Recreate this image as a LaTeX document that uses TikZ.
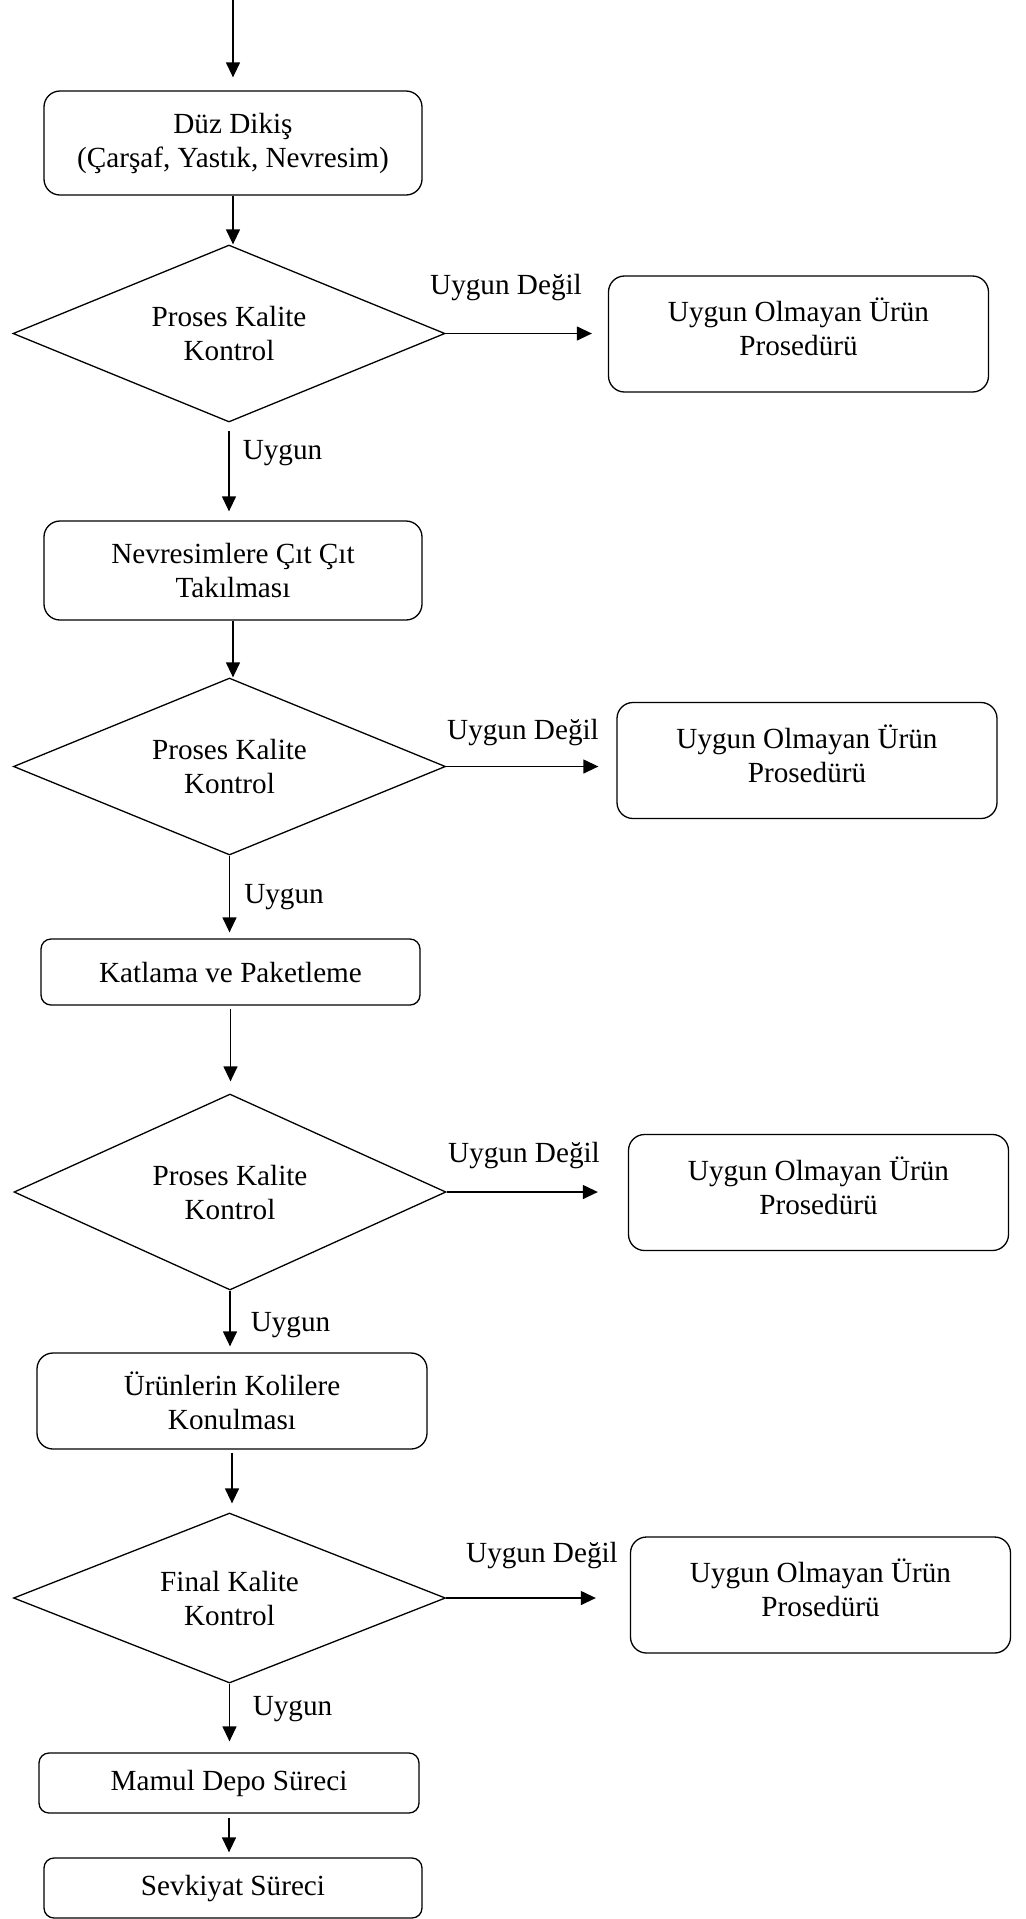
\documentclass[tikz,border=0pt]{standalone}
\usepackage{fontspec}
\setmainfont{Liberation Serif}
\usetikzlibrary{shapes.geometric,arrows.meta}

\tikzset{
	stepbox/.style={draw, rounded corners=8pt, line width=0.65pt, align=center, inner sep=0pt},
	thinbox/.style={stepbox, rounded corners=5pt},
	nobox/.style={stepbox, minimum width=190pt, minimum height=58pt, text depth=7pt},
	check/.style={draw, diamond, aspect=2.4, line width=0.65pt, align=center, inner sep=0pt, minimum width=216pt},
	arr/.style={-{Triangle[length=7.5pt,width=7pt]}, line width=0.65pt},
}

\begin{document}
\begin{tikzpicture}[x=0.5pt, y=-0.5pt, font=\fontsize{14.6pt}{17pt}\selectfont]
		
		\useasboundingbox (0,0) rectangle (1025,1919);
		
		\coordinate (start) at (233,0);
		
		\node[stepbox, minimum width=189pt, minimum height=52pt] (dikis) at (233,143) {Düz Dikiş\\(Çarşaf, Yastık, Nevresim)};
		\node[check, minimum height=88.5pt] (kk1) at (229,333.5) {Proses Kalite\\Kontrol};
		\node[nobox] (red1) at (798.5,334) {Uygun Olmayan Ürün\\Prosedürü};
		
		\node[stepbox, minimum width=189pt, minimum height=49.5pt] (citcit) at (233,570.5) {Nevresimlere Çıt Çıt\\Takılması};
		\node[check, minimum height=88.5pt] (kk2) at (229.5,766.5) {Proses Kalite\\Kontrol};
		\node[nobox] (red2) at (807,760.5) {Uygun Olmayan Ürün\\Prosedürü};
		
		\node[thinbox, minimum width=189.5pt, minimum height=33pt] (katlama) at (230.5,972) {Katlama ve Paketleme};
		\node[check, minimum height=98pt] (kk3) at (230,1192) {Proses Kalite\\Kontrol};
		\node[nobox] (red3) at (818.5,1192.5) {Uygun Olmayan Ürün\\Prosedürü};
		
		\node[stepbox, minimum width=195pt, minimum height=48pt] (koli) at (232,1401) {Ürünlerin Kolilere\\Konulması};
		\node[check, minimum height=85pt] (kk4) at (229.5,1598) {Final Kalite\\Kontrol};
		\node[nobox] (red4) at (820.5,1595) {Uygun Olmayan Ürün\\Prosedürü};
		
		\node[thinbox, minimum width=190pt, minimum height=30pt] (depo) at (229,1783) {Mamul Depo Süreci};
		\node[thinbox, minimum width=189pt, minimum height=30pt] (sevk) at (233,1888) {Sevkiyat Süreci};
		
		\node (no1) at (506,288) {Uygun Değil};
		\node (no2) at (523,733) {Uygun Değil};
		\node (no3) at (524,1156) {Uygun Değil};
		\node (no4) at (542,1555) {Uygun Değil};
		
		\node (ok1) at (282.5,453) {Uygun};
		\node (ok2) at (284,897) {Uygun};
		\node (ok3) at (290.5,1325) {Uygun};
		\node (ok4) at (292.5,1709) {Uygun};
		
		\draw[arr, shorten >=6.5pt] (start) -- (start |- dikis.north);
		\draw[arr] (dikis.south) -- (dikis.south |- kk1.north);
		\draw[arr, shorten >=8pt] (kk1.east) -- (kk1.east -| red1.west);
		\draw[arr, shorten <=4.3pt, shorten >=4.5pt] (kk1.south) -- (kk1.south |- citcit.north);
		
		\draw[arr] (citcit.south) -- (citcit.south |- kk2.north);
		\draw[arr, shorten >=9pt] (kk2.east) -- (kk2.east -| red2.west);
		\draw[arr, shorten >=3pt] (kk2.south) -- (kk2.south |- katlama.north);
		
		\draw[arr, shorten <=1.5pt, shorten >=6pt] (katlama.south) -- (katlama.south |- kk3.north);
		\draw[arr, shorten >=15pt] (kk3.east) -- (kk3.east -| red3.west);
		\draw[arr, shorten >=3pt] (kk3.south) -- (kk3.south |- koli.north);
		
		\draw[arr, shorten <=1.5pt, shorten >=4.5pt] (koli.south) -- (koli.south |- kk4.north);
		\draw[arr, shorten >=17pt] (kk4.east) -- (kk4.east -| red4.west);
		\draw[arr, shorten >=5.5pt] (kk4.south) -- (kk4.south |- depo.north);
		
		\draw[arr, shorten <=2pt, shorten >=2.5pt] (depo.south) -- (depo.south |- sevk.north);
		
	\end{tikzpicture}
\end{document}
